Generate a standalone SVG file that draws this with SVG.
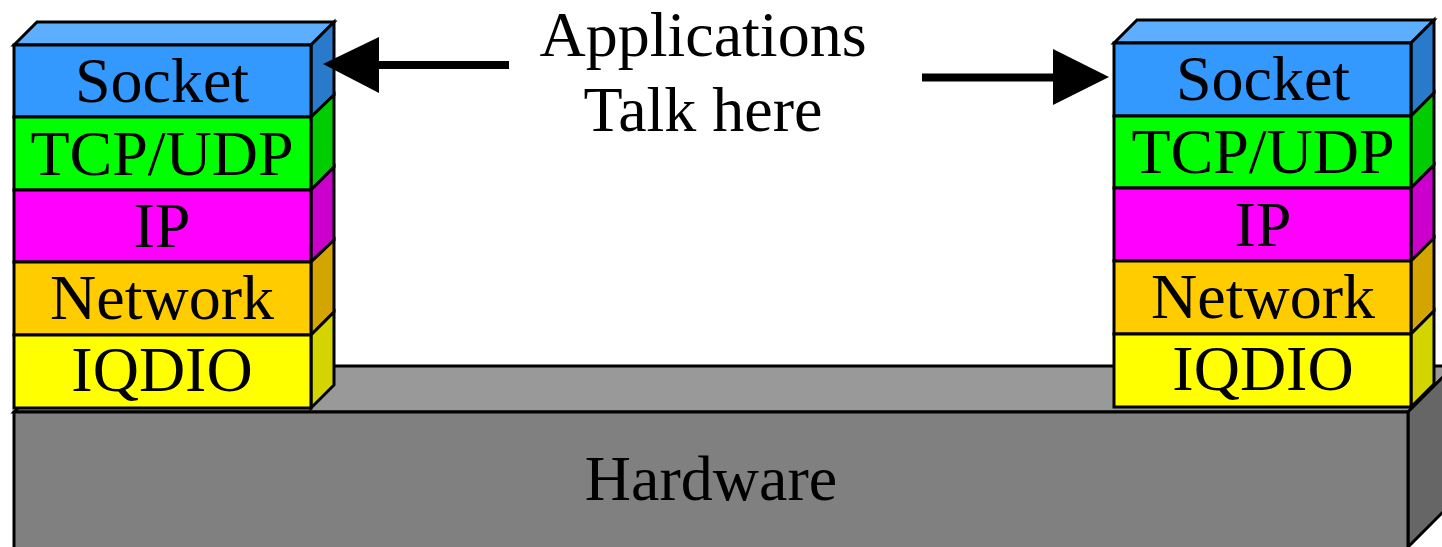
<svg xmlns="http://www.w3.org/2000/svg" width="1442" height="547" viewBox="0 0 1442 547">
  <style>
    .edge { stroke: #000; stroke-width: 3; stroke-linejoin: miter; }
    .lbl { font-family: "Liberation Serif", "Times New Roman", serif; font-size: 64px; fill: #000; text-anchor: middle; }
    .sock-f { fill: #3399FF; } .sock-t { fill: #5EAEFF; } .sock-s { fill: #2A7ACC; }
    .tcp-f { fill: #00FF00; } .tcp-s { fill: #00CC00; }
    .ip-f { fill: #FF00FF; } .ip-s { fill: #CC00CC; }
    .net-f { fill: #FFCC00; } .net-s { fill: #D4A500; }
    .iq-f { fill: #FFFF00; } .iq-s { fill: #D4D400; }
    .hw-f { fill: #808080; } .hw-t { fill: #999999; } .hw-s { fill: #666666; }
    .arrow { stroke: #000; stroke-width: 8; fill: none; }
    .head { fill: #000; }
  </style>

  <!-- Hardware slab -->
  <g id="hardware">
    <polygon class="hw-t edge" points="14,412 60,366 1454,366 1408,412"/>
    <polygon class="hw-s edge" points="1408,412 1454,366 1454,501 1408,547"/>
    <rect class="hw-f edge" x="14" y="412" width="1394" height="140"/>
    <text class="lbl" x="711" y="500">Hardware</text>
  </g>

  <!-- Left protocol stack -->
  <g id="stack-left">
    <polygon class="sock-t edge" points="14,45 37,22 334,22 311,45"/>
    <g id="left-socket">
      <polygon class="sock-s edge" points="311,45 334,22 334,95 311,117"/>
      <rect class="sock-f edge" x="14" y="45" width="297" height="72"/>
      <text class="lbl" x="162" y="102">Socket</text>
    </g>
    <g id="left-tcpudp">
      <polygon class="tcp-s edge" points="311,117 334,95 334,167 311,190"/>
      <rect class="tcp-f edge" x="14" y="117" width="297" height="73"/>
      <text class="lbl" x="162" y="175">TCP/UDP</text>
    </g>
    <g id="left-ip">
      <polygon class="ip-s edge" points="311,190 334,167 334,240 311,262"/>
      <rect class="ip-f edge" x="14" y="190" width="297" height="72"/>
      <text class="lbl" x="162" y="247">IP</text>
    </g>
    <g id="left-network">
      <polygon class="net-s edge" points="311,262 334,240 334,312 311,335"/>
      <rect class="net-f edge" x="14" y="262" width="297" height="73"/>
      <text class="lbl" x="162" y="319">Network</text>
    </g>
    <g id="left-iqdio">
      <polygon class="iq-s edge" points="311,335 334,312 334,385 311,408"/>
      <rect class="iq-f edge" x="14" y="335" width="297" height="73"/>
      <text class="lbl" x="162" y="391">IQDIO</text>
    </g>
  </g>

  <!-- Right protocol stack -->
  <g id="stack-right">
    <polygon class="sock-t edge" points="1114,43 1137,20 1434,20 1411,43"/>
    <g id="right-socket">
      <polygon class="sock-s edge" points="1411,43 1434,20 1434,93 1411,116"/>
      <rect class="sock-f edge" x="1114" y="43" width="297" height="73"/>
      <text class="lbl" x="1263" y="100">Socket</text>
    </g>
    <g id="right-tcpudp">
      <polygon class="tcp-s edge" points="1411,116 1434,93 1434,165 1411,188"/>
      <rect class="tcp-f edge" x="1114" y="116" width="297" height="72"/>
      <text class="lbl" x="1263" y="173">TCP/UDP</text>
    </g>
    <g id="right-ip">
      <polygon class="ip-s edge" points="1411,188 1434,165 1434,238 1411,261"/>
      <rect class="ip-f edge" x="1114" y="188" width="297" height="73"/>
      <text class="lbl" x="1263" y="246">IP</text>
    </g>
    <g id="right-network">
      <polygon class="net-s edge" points="1411,261 1434,238 1434,311 1411,334"/>
      <rect class="net-f edge" x="1114" y="261" width="297" height="73"/>
      <text class="lbl" x="1263" y="318">Network</text>
    </g>
    <g id="right-iqdio">
      <polygon class="iq-s edge" points="1411,334 1434,311 1434,384 1411,407"/>
      <rect class="iq-f edge" x="1114" y="334" width="297" height="73"/>
      <text class="lbl" x="1263" y="390">IQDIO</text>
    </g>
  </g>

  <!-- Caption -->
  <g id="caption">
    <text class="lbl" x="703" y="56">Applications</text>
    <text class="lbl" x="703" y="131">Talk here</text>
  </g>

  <!-- Connectors -->
  <g id="connectors">
    <line class="arrow" x1="509" y1="65" x2="375" y2="65"/>
    <polygon class="head" points="323,64 379,37 379,93"/>
    <line class="arrow" x1="922" y1="77.5" x2="1057" y2="77.5"/>
    <polygon class="head" points="1109,77 1053,49 1053,105"/>
  </g>
</svg>
